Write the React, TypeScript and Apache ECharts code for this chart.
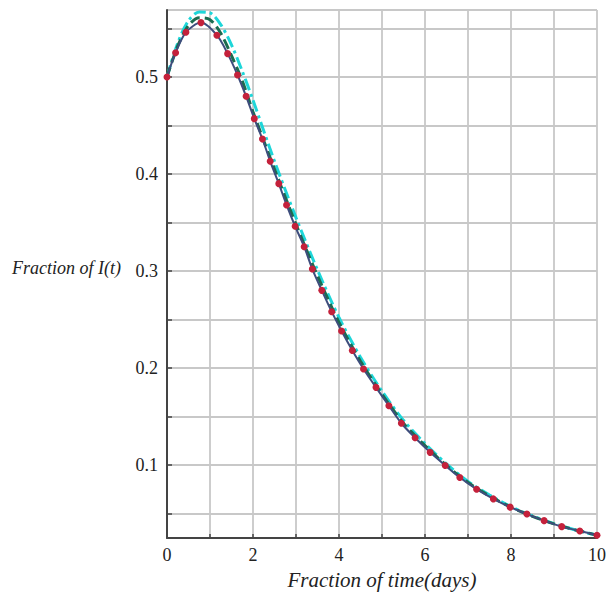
import React, { useEffect, useRef } from "react";
import * as echarts from "echarts";

// Red dotted curve (also traced by the navy solid curve): [t, I(t)]
const redT = [0, 0.2, 0.44, 0.79, 1.16, 1.41, 1.64, 1.84, 2.03, 2.22, 2.4, 2.6, 2.78, 2.98, 3.19, 3.38, 3.6, 3.83, 4.06, 4.31, 4.57, 4.86, 5.16, 5.45, 5.77, 6.12, 6.47, 6.81, 7.2, 7.59, 7.98, 8.37, 8.77, 9.18, 9.6, 10];
const redI = [0.5, 0.525, 0.546, 0.556, 0.543, 0.524, 0.502, 0.48, 0.457, 0.436, 0.413, 0.39, 0.368, 0.346, 0.325, 0.302, 0.28, 0.258, 0.238, 0.218, 0.199, 0.18, 0.161, 0.143, 0.128, 0.113, 0.0995, 0.087, 0.075, 0.065, 0.0565, 0.0495, 0.0426, 0.0364, 0.032, 0.0275];

// Grid of times for the dashed curves
const tGrid = [0, 0.25, 0.5, 0.75, 1, 1.25, 1.5, 1.75, 2, 2.5, 3, 3.5, 4, 4.5, 5, 5.5, 6, 6.5, 7, 7.5, 8, 8.5, 9, 9.5, 10];
const greenI = [0.5, 0.532, 0.553, 0.561, 0.559, 0.545, 0.522, 0.496, 0.464, 0.405, 0.348, 0.295, 0.247, 0.207, 0.173, 0.143, 0.12, 0.0995, 0.082, 0.068, 0.0565, 0.047, 0.0393, 0.033, 0.0277];
const cyanI = [0.5, 0.535, 0.558, 0.567, 0.566, 0.554, 0.533, 0.506, 0.476, 0.413, 0.355, 0.301, 0.252, 0.211, 0.176, 0.146, 0.122, 0.101, 0.083, 0.069, 0.057, 0.0475, 0.0395, 0.033, 0.0275];

const xLabels = [0, 2, 4, 6, 8, 10];
const yLabels = [0.1, 0.2, 0.3, 0.4, 0.5];

const xName = "Fraction of time(days)";
const yName = "Fraction of I(t)";

const serif = "'Liberation Serif', 'DejaVu Serif', serif";

export default function App() {
  const ref = useRef<HTMLDivElement>(null);
  useEffect(() => {
    if (!ref.current) return;
    const chart = echarts.init(ref.current, null, { renderer: "svg" });
    const zip = (xs: number[], ys: number[]) => xs.map((x, i) => [x, ys[i]]);
    const near = (v: number, list: number[]) => list.some((l) => Math.abs(l - v) < 1e-6);
    chart.setOption({
      animation: false,
      backgroundColor: "#ffffff",
      grid: { left: 167, right: 19, top: 10, bottom: 63, containLabel: false },
      xAxis: {
        type: "value",
        min: 0,
        max: 10,
        interval: 1,
        name: xName,
        nameLocation: "middle",
        nameGap: 31,
        nameTextStyle: { fontFamily: serif, fontStyle: "italic", fontSize: 21, color: "#222" },
        axisLine: { lineStyle: { color: "#444", width: 2 } },
        axisTick: { inside: true, length: 4, lineStyle: { color: "#444", width: 1.5 } },
        axisLabel: {
          fontFamily: serif,
          fontSize: 18,
          color: "#222",
          margin: 8,
          formatter: (v: number) => (near(v, xLabels) ? String(v) : ""),
        },
        splitLine: { show: true, lineStyle: { color: "#c8c8c8", width: 1.8 } },
      },
      yAxis: {
        type: "value",
        min: 0.0247,
        max: 0.569,
        splitNumber: 10,
        axisLine: { show: true, lineStyle: { color: "#444", width: 2 } },
        axisTick: { show: true, inside: true, length: 5, lineStyle: { color: "#444", width: 1.5 } },
        axisLabel: {
          fontFamily: serif,
          fontSize: 18,
          color: "#222",
          margin: 9,
          showMinLabel: false,
          showMaxLabel: false,
          formatter: (v: number) => {
            const hit = yLabels.find((l) => Math.abs(l - v) < 1e-6);
            return hit !== undefined ? hit.toFixed(1) : "";
          },
        },
        splitLine: { show: true, lineStyle: { color: "#c8c8c8", width: 1.8 } },
      },
      graphic: [
        {
          type: "text",
          left: 12,
          top: 259,
          style: {
            text: yName,
            fontFamily: serif,
            fontStyle: "italic",
            fontSize: 18,
            fill: "#222",
          },
        },
      ],
      series: [
        {
          type: "line",
          name: "cyan",
          data: zip(tGrid, cyanI),
          smooth: 0.3,
          showSymbol: false,
          lineStyle: { color: "#1ed6d9", width: 3, type: [12, 4, 3, 4] },
          z: 1,
        },
        {
          type: "line",
          name: "green",
          data: zip(tGrid, greenI),
          smooth: 0.3,
          showSymbol: false,
          lineStyle: { color: "#1c6b4f", width: 3, type: [10, 5] },
          z: 2,
        },
        {
          type: "line",
          name: "navy",
          data: zip(redT, redI),
          smooth: 0.3,
          showSymbol: false,
          lineStyle: { color: "#3e4d7d", width: 2 },
          z: 3,
        },
        {
          type: "line",
          name: "red",
          data: zip(redT, redI),
          smooth: 0.3,
          showSymbol: true,
          symbol: "circle",
          symbolSize: 7,
          itemStyle: { color: "#c4213b" },
          lineStyle: { width: 0, opacity: 0 },
          z: 4,
        },
      ],
    });
    return () => chart.dispose();
  }, []);
  return (
    <div
      ref={ref}
      style={{ position: "fixed", left: 0, top: 0, width: 616, height: 601, background: "#fff" }}
    />
  );
}
